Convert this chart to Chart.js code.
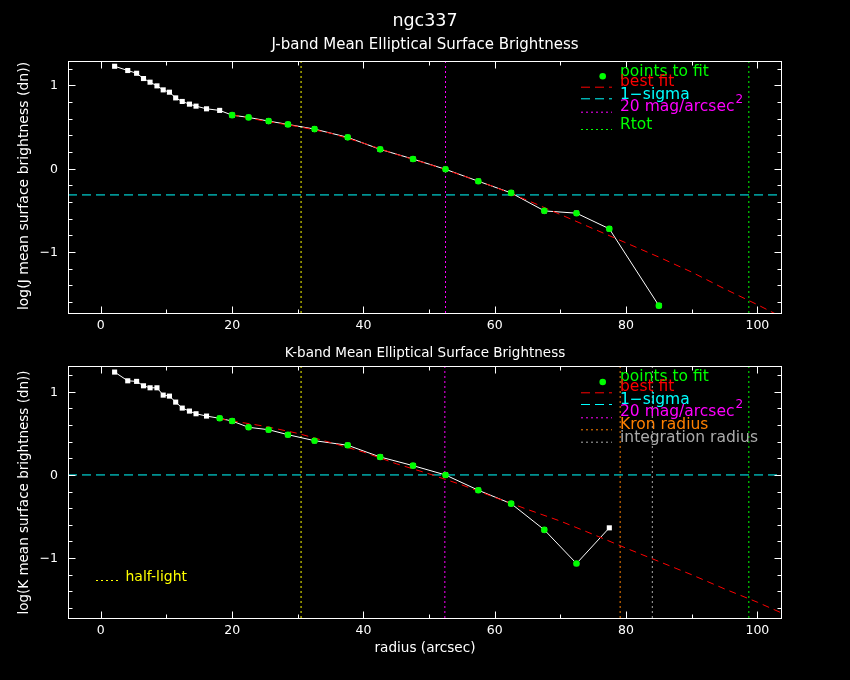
<!DOCTYPE html>
<html><head><meta charset="utf-8">
<script src="https://cdn.jsdelivr.net/npm/chart.js@4.4.0/dist/chart.umd.min.js"></script>
<style>
html,body{margin:0;padding:0;background:#000;}
#wrap{position:relative;width:850px;height:680px;background:#000;overflow:hidden}
canvas{position:absolute;left:0}
</style></head><body>
<div id="wrap">
<canvas id="cJ" width="850" height="340" style="top:0;width:850px;height:340px"></canvas>
<canvas id="cK" width="850" height="340" style="top:340px;width:850px;height:340px"></canvas>
</div>
<script>
// ---------- data ----------
const radiusJ = [2.1,4.1,5.45,6.5,7.5,8.55,9.5,10.45,11.4,12.4,13.5,14.5,16.1,18.1,20.0,22.5,25.55,28.5,32.55,37.6,42.55,47.55,52.5,57.5,62.5,67.55,72.45,77.45,85.0];
const jBrightness = [1.227,1.176,1.143,1.080,1.036,0.992,0.944,0.916,0.848,0.805,0.773,0.749,0.717,0.698,0.641,0.614,0.570,0.530,0.474,0.375,0.231,0.115,-0.008,-0.151,-0.291,-0.506,-0.534,-0.721,-1.642];
const jFitFlags = [0,0,0,0,0,0,0,0,0,0,0,0,0,0,1,1,1,1,1,1,1,1,1,1,1,1,1,1,1];

const radiusK = [2.1,4.1,5.45,6.5,7.5,8.55,9.5,10.45,11.4,12.4,13.5,14.5,16.1,18.1,20.0,22.5,25.55,28.5,32.55,37.6,42.55,47.55,52.5,57.5,62.5,67.55,72.45,77.45];
const kBrightness = [1.237,1.132,1.125,1.072,1.048,1.048,0.960,0.948,0.876,0.804,0.768,0.736,0.708,0.681,0.648,0.573,0.544,0.484,0.412,0.357,0.216,0.112,0.0,-0.184,-0.345,-0.660,-1.065,-0.636];
const kFitFlags = [0,0,0,0,0,0,0,0,0,0,0,0,0,1,1,1,1,1,1,1,1,1,1,1,1,1,1,0];

const fitRadiusJ = [20,25,30,35,40,45,50,55,60,65,70,75,80,85,90,95,100,104];
const fitJ = [0.645,0.570,0.505,0.425,0.305,0.172,0.052,-0.08,-0.22,-0.38,-0.55,-0.72,-0.89,-1.06,-1.24,-1.44,-1.63,-1.79];
const fitRadiusK = [18,20,25,30,35,40,45,50,55,60,65,70,75,80,85,90,95,100,104];
const fitK = [0.675,0.65,0.585,0.50,0.39,0.275,0.135,0.013,-0.12,-0.27,-0.415,-0.555,-0.715,-0.88,-1.04,-1.20,-1.37,-1.53,-1.67];

const sigmaJ = -0.315, sigmaK = 0.0;
const halfLightJ = 30.5, mag20J = 52.5, rtotJ = 98.7;
const halfLightK = 30.5, mag20K = 52.4, kronK = 79.1, integK = 84.0, rtotK = 98.7;

const xTickLabels = [0,20,40,60,80,100];
const yTickLabels = [1,0,-1];
const xMinorStep = 10, yMinorStep = 0.2;

const xRange = [-5, 103.6];
const yRangeJ = [-1.73, 1.29];
const yRangeK = [-1.72, 1.31];

// ---------- colours ----------
const C = {white:'#ffffff', green:'#00ff00', red:'#ff0000', cyan:'#00ffff', magenta:'#ff00ff',
           yellow:'#ffff00', orange:'#ff8000', gray:'#aaaaaa'};
const DASH = [9,5], DOT = [2,3];
const FONT = '"DejaVu Sans", sans-serif';

function pts(xs, ys){ return xs.map((x,i)=>({x:x, y:ys[i]})); }
function fitPts(xs, ys, flags){ return xs.map((x,i)=>({x:x,y:ys[i]})).filter((p,i)=>flags[i]); }
function vline(x, yr, color, order){
  return {data:[{x:x,y:yr[0]},{x:x,y:yr[1]}], showLine:true, borderColor:color, borderWidth:1,
          borderDash:DOT, pointRadius:0, order:order};
}
function hline(y, color, order){
  return {data:[{x:xRange[0],y:y},{x:xRange[1],y:y}], showLine:true, borderColor:color, borderWidth:1,
          borderDash:DASH, pointRadius:0, order:order};
}

function makeDatasets(rad, vals, flags, fr, fv, sigma, vlines, yr){
  const ds = [
    {data:fitPts(rad, vals, flags), showLine:false, pointStyle:'circle', pointRadius:3.3,
     backgroundColor:C.green, borderColor:C.green, borderWidth:0, order:0},
    {data:pts(fr, fv), showLine:true, borderColor:C.red, borderWidth:1, borderDash:[7,5],
     pointRadius:0, order:1},
    {data:pts(rad, vals), showLine:true, borderColor:C.white, borderWidth:1, pointStyle:'rect',
     pointRadius:3.6, backgroundColor:C.white, pointBorderWidth:0, order:2},
    hline(sigma, C.cyan, 3)
  ];
  vlines.forEach(v=>ds.push(vline(v[0], yr, v[1], 4)));
  return ds;
}

function line(ctx,x1,y1,x2,y2){ ctx.beginPath(); ctx.moveTo(x1,y1); ctx.lineTo(x2,y2); ctx.stroke(); }

function decorPlugin(opt){
  return {
    id:'decor',
    afterDraw(chart){
      const ctx = chart.ctx, xs = chart.scales.x, ys = chart.scales.y, a = chart.chartArea;
      ctx.save();
      ctx.strokeStyle = C.white; ctx.lineWidth = 1; ctx.setLineDash([]);
      const L = Math.round(a.left)+0.5, R = Math.round(a.right)+0.5, T = Math.round(a.top)+0.5, B = Math.round(a.bottom)+0.5;
      ctx.strokeRect(L, T, R-L, B-T);
      // x ticks (inward, top & bottom)
      for (let v = 0; v <= xs.max; v += xMinorStep){
        const px = Math.round(xs.getPixelForValue(v))+0.5;
        const len = xTickLabels.includes(v) ? 7 : 4;
        line(ctx, px, B, px, B-len); line(ctx, px, T, px, T+len);
      }
      // y ticks (inward, left & right)
      for (let k = Math.ceil(ys.min/yMinorStep); k*yMinorStep <= ys.max; k++){
        const v = Math.round(k*yMinorStep*10)/10;
        const py = Math.round(ys.getPixelForValue(v))+0.5;
        const len = yTickLabels.includes(v) ? 7 : 4;
        line(ctx, L, py, L+len, py); line(ctx, R, py, R-len, py);
      }
      // tick labels
      ctx.fillStyle = C.white; ctx.font = '12.5px ' + FONT;
      ctx.textAlign = 'center'; ctx.textBaseline = 'middle';
      xTickLabels.forEach(v => ctx.fillText(String(v), xs.getPixelForValue(v), a.bottom + 13));
      ctx.textAlign = 'right';
      yTickLabels.forEach(v => ctx.fillText(v < 0 ? '\u2212' + Math.abs(v) : String(v), a.left - 10, ys.getPixelForValue(v) + 1));
      // titles
      ctx.textAlign = 'center';
      opt.texts.forEach(t => {
        ctx.save();
        ctx.font = t.size + 'px ' + FONT; ctx.fillStyle = t.color || C.white;
        ctx.translate(t.x, t.y);
        if (t.rot) ctx.rotate(-Math.PI/2);
        ctx.textAlign = t.align || 'center';
        ctx.fillText(t.text, 0, 0);
        ctx.restore();
      });
      // legend
      ctx.font = '15.5px ' + FONT; ctx.textAlign = 'left'; ctx.textBaseline = 'middle';
      opt.legend.forEach(it => {
        ctx.fillStyle = it.color; ctx.strokeStyle = it.color;
        ctx.fillText(it.text, 620, it.ty);
        if (it.sup){
          const w = ctx.measureText(it.text).width;
          ctx.save(); ctx.font = '12px ' + FONT; ctx.fillText(it.sup, 620 + w + 1, it.ty - 7.5); ctx.restore();
        }
        if (it.kind === 'dot'){
          ctx.beginPath(); ctx.arc(602.7, it.ly, 3.3, 0, Math.PI*2); ctx.fill();
        } else {
          ctx.setLineDash(it.kind === 'dash' ? DASH : DOT);
          line(ctx, 581, it.ly + 0.5, 612, it.ly + 0.5);
          ctx.setLineDash([]);
        }
      });
      if (opt.extra) opt.extra(ctx);
      ctx.restore();
    }
  };
}

function makeChart(id, datasets, yr, pad, opt){
  return new Chart(document.getElementById(id), {
    type:'scatter',
    data:{datasets:datasets},
    options:{
      responsive:false, animation:false, devicePixelRatio:1,
      layout:{padding:pad},
      plugins:{legend:{display:false}, tooltip:{enabled:false}, title:{display:false}},
      scales:{
        x:{type:'linear', min:xRange[0], max:xRange[1], display:false},
        y:{type:'linear', min:yr[0], max:yr[1], display:false}
      }
    },
    plugins:[decorPlugin(opt)]
  });
}

// J band (top)
makeChart('cJ',
  makeDatasets(radiusJ, jBrightness, jFitFlags, fitRadiusJ, fitJ, sigmaJ,
    [[halfLightJ, C.yellow],[mag20J, C.magenta],[rtotJ, C.green]], yRangeJ),
  yRangeJ, {left:68, right:69, top:61, bottom:27},
  {
    texts:[
      {text:'ngc337', x:425, y:21, size:17.5},
      {text:'J-band Mean Elliptical Surface Brightness', x:425, y:45, size:15},
      {text:'log(J mean surface brightness (dn))', x:24, y:186, size:14, rot:true}
    ],
    legend:[
      {text:'points to fit', color:C.green, kind:'dot', ty:72, ly:76.3},
      {text:'best fit', color:C.red, kind:'dash', ty:82, ly:86.7},
      {text:'1\u2212sigma', color:C.cyan, kind:'dash', ty:95, ly:98.3},
      {text:'20 mag/arcsec', sup:'2', color:C.magenta, kind:'dotline', ty:107, ly:111.7},
      {text:'Rtot', color:C.green, kind:'dotline', ty:124.5, ly:129}
    ]
  });

// K band (bottom)
makeChart('cK',
  makeDatasets(radiusK, kBrightness, kFitFlags, fitRadiusK, fitK, sigmaK,
    [[halfLightK, C.yellow],[mag20K, C.magenta],[kronK, C.orange],[integK, C.gray],[rtotK, C.green]], yRangeK),
  yRangeK, {left:68, right:69, top:26, bottom:62},
  {
    texts:[
      {text:'K-band Mean Elliptical Surface Brightness', x:425, y:13, size:13.5},
      {text:'log(K mean surface brightness (dn))', x:24, y:152.5, size:13.5, rot:true},
      {text:'radius (arcsec)', x:425, y:308, size:13.6}
    ],
    legend:[
      {text:'points to fit', color:C.green, kind:'dot', ty:37, ly:42},
      {text:'best fit', color:C.red, kind:'dash', ty:47, ly:52.3},
      {text:'1\u2212sigma', color:C.cyan, kind:'dash', ty:60, ly:64},
      {text:'20 mag/arcsec', sup:'2', color:C.magenta, kind:'dotline', ty:72, ly:77.3},
      {text:'Kron radius', color:C.orange, kind:'dotline', ty:85, ly:89.3},
      {text:'integration radius', color:C.gray, kind:'dotline', ty:97.7, ly:101.7}
    ],
    extra(ctx){
      ctx.strokeStyle = C.yellow; ctx.fillStyle = C.yellow;
      ctx.setLineDash(DOT); line(ctx, 96, 240.5, 118, 240.5); ctx.setLineDash([]);
      ctx.font = '14px ' + FONT; ctx.textAlign = 'left'; ctx.textBaseline = 'middle';
      ctx.fillText('half-light', 125.5, 237);
    }
  });
</script>
</body></html>
